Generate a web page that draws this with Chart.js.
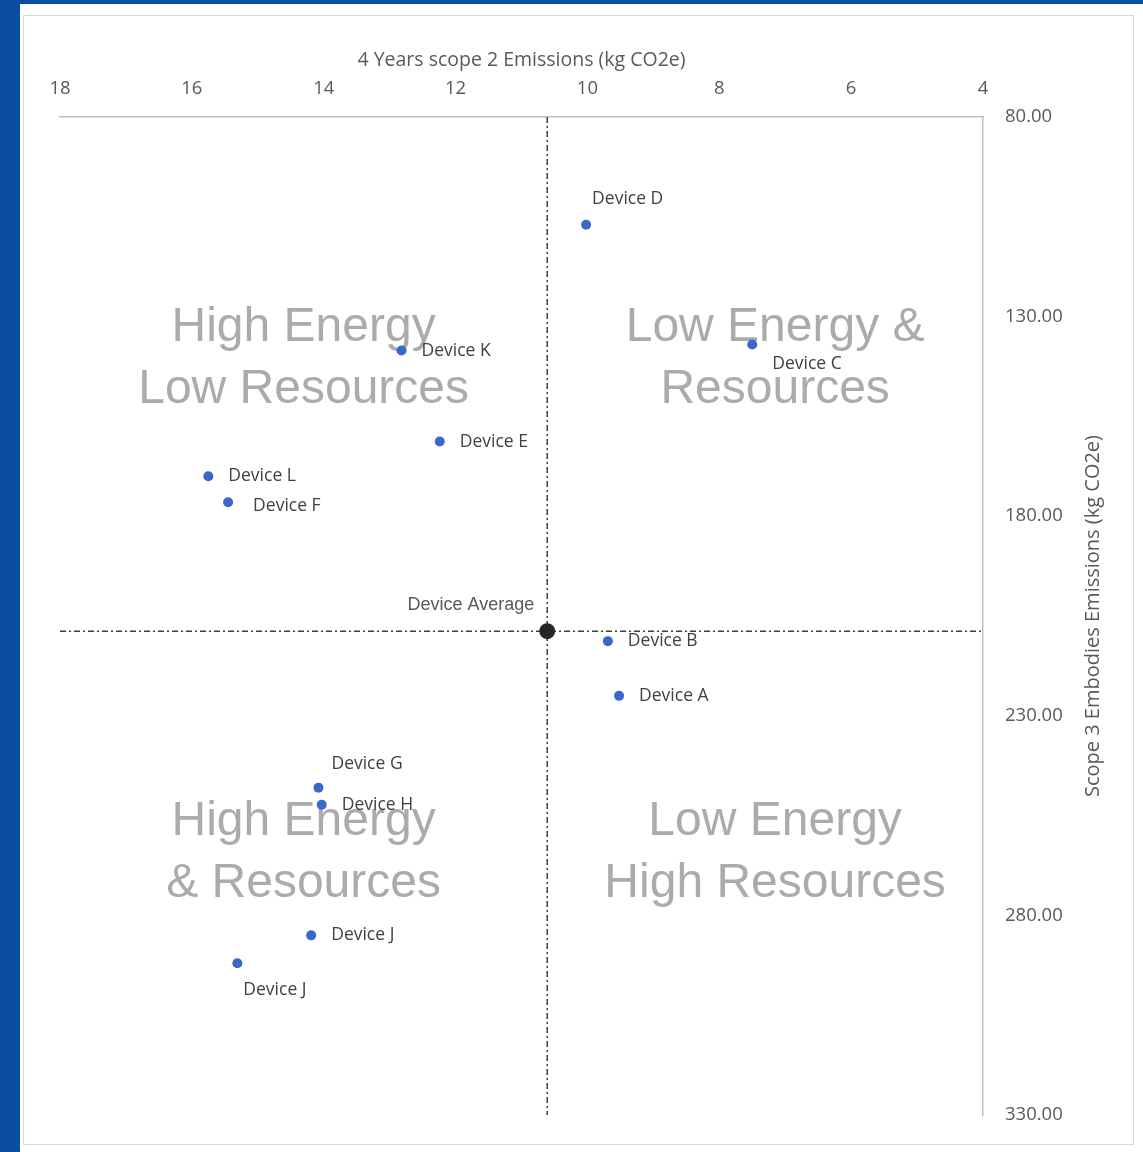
<!DOCTYPE html>
<html>
<head>
<meta charset="utf-8">
<script src="https://cdn.jsdelivr.net/npm/chart.js@4"></script>
<style>
  html, body { margin: 0; padding: 0; }
  body { width: 1143px; height: 1152px; background: #0b4e9f; position: relative; overflow: hidden; }
  .sheet { position: absolute; left: 20px; top: 4px; right: 0; bottom: 0; background: #fff; }
  .frame { position: absolute; left: 23px; top: 15px; width: 1109px; height: 1128px; border: 1.5px solid #d9d9d9; }
  canvas { position: absolute; left: 0; top: 0; }
</style>
</head>
<body>
<div class="sheet"></div>
<div class="frame"></div>
<canvas id="quadChart" width="1143" height="1152"></canvas>
<script>
// device emissions
const deviceNames = ['Device A', 'Device B', 'Device C', 'Device D', 'Device E', 'Device F',
  'Device G', 'Device H', 'Device J', 'Device J', 'Device K', 'Device L'];
const scope2 = [9.52, 9.69, 7.50, 10.02, 12.24, 15.45, 14.08, 14.03, 14.19, 15.31, 12.82, 15.75];
const scope3 = [225.0, 211.3, 137.0, 107.0, 161.3, 176.5, 248.0, 252.3, 285.0, 292.0, 138.5, 170.0];

const avgScope2 = 10.61;
const avgScope3 = 208.8;

const xRange = [4, 18];
const yRange = [80, 330];

const quadrantText = [
  ['High Energy', 'Low Resources'],
  ['Low Energy &', 'Resources'],
  ['High Energy', '& Resources'],
  ['Low Energy', 'High Resources']
];

// where each device label sits relative to its dot
const labelPlacement = ['right', 'right', 'belowRight', 'above', 'right', 'rightLow',
  'aboveRight', 'right', 'right', 'below', 'right', 'right'];

const labelFont = '17.5px "Open Sans"';
const labelColor = '#404040';
const axisColor = '#595959';

const devicePoints = scope2.map((x, i) => ({ x: x, y: scope3[i] }));

const quadrantLabels = {
  id: 'quadrantLabels',
  beforeDatasetsDraw(chart) {
    const { ctx, scales: { x, y }, chartArea } = chart;
    const midX = x.getPixelForValue(avgScope2);
    const midY = y.getPixelForValue(avgScope3);
    const cxs = [(chartArea.left + midX) / 2, (midX + chartArea.right) / 2 + 10];
    const cys = [(chartArea.top + midY) / 2 - 15, (midY + chartArea.bottom) / 2 - 20];
    ctx.save();
    ctx.font = '48px "Liberation Sans"';
    ctx.fillStyle = '#ababab';
    ctx.textAlign = 'center';
    ctx.textBaseline = 'middle';
    quadrantText.forEach((lines, q) => {
      const cx = cxs[q % 2];
      const cy = cys[Math.floor(q / 2)];
      ctx.fillText(lines[0], cx, cy - 31);
      ctx.fillText(lines[1], cx, cy + 31);
    });
    ctx.restore();
  }
};

const pointLabels = {
  id: 'pointLabels',
  afterDatasetsDraw(chart) {
    const { ctx } = chart;
    const meta = chart.getDatasetMeta(0);
    ctx.save();
    ctx.font = labelFont;
    ctx.fillStyle = labelColor;
    ctx.textBaseline = 'middle';
    ctx.textAlign = 'left';
    meta.data.forEach((pt, i) => {
      let dx = 20, dy = 0;
      switch (labelPlacement[i]) {
        case 'above': dx = 6; dy = -26; break;
        case 'aboveRight': dx = 13; dy = -24; break;
        case 'below': dx = 6; dy = 27; break;
        case 'belowRight': dx = 20; dy = 19; break;
        case 'rightLow': dx = 25; dy = 4; break;
      }
      ctx.fillText(deviceNames[i], pt.x + dx, pt.y + dy);
    });
    const avg = chart.getDatasetMeta(1).data[0];
    ctx.font = '18px "Liberation Sans"';
    ctx.fillStyle = axisColor;
    ctx.textAlign = 'right';
    ctx.fillText('Device Average', avg.x - 13, avg.y - 26);
    ctx.restore();
  }
};

// y title reads bottom-to-top on the right side
const rightTitle = {
  id: 'rightTitle',
  afterDraw(chart) {
    const { ctx, chartArea } = chart;
    ctx.save();
    ctx.translate(1093, (chartArea.top + chartArea.bottom) / 2);
    ctx.rotate(-Math.PI / 2);
    ctx.font = '20px "Open Sans"';
    ctx.fillStyle = axisColor;
    ctx.textAlign = 'center';
    ctx.textBaseline = 'middle';
    ctx.fillText('Scope 3 Embodies Emissions (kg CO2e)', 0, 0);
    ctx.restore();
  }
};

const dividerStyle = {
  type: 'line',
  showLine: true,
  borderColor: '#3f3f3f',
  borderWidth: 1.5,
  borderDash: [6, 3, 2, 3],
  pointRadius: 0,
  fill: false
};

new Chart(document.getElementById('quadChart'), {
  type: 'scatter',
  data: {
    datasets: [
      {
        label: 'Devices',
        data: devicePoints,
        pointRadius: 5,
        pointHoverRadius: 5,
        backgroundColor: '#3a67c9',
        borderWidth: 0
      },
      {
        label: 'Device Average',
        data: [{ x: avgScope2, y: avgScope3 }],
        pointRadius: 8,
        backgroundColor: '#262626',
        borderWidth: 0
      },
      Object.assign({ label: 'v', data: [{ x: avgScope2, y: yRange[0] }, { x: avgScope2, y: yRange[1] }] }, dividerStyle),
      Object.assign({ label: 'h', data: [{ x: xRange[1], y: avgScope3 }, { x: xRange[0], y: avgScope3 }] }, dividerStyle)
    ]
  },
  options: {
    responsive: false,
    animation: false,
    layout: { padding: { left: 60, top: 38, right: 0, bottom: 37 } },
    plugins: {
      legend: { display: false },
      tooltip: { enabled: false }
    },
    scales: {
      x: {
        type: 'linear',
        position: 'top',
        reverse: true,
        min: xRange[0],
        max: xRange[1],
        afterFit(scale) { scale.height = 79; },
        grid: { display: false },
        border: { display: true, color: '#bfbfbf', width: 1.5 },
        ticks: {
          stepSize: 2,
          padding: 9,
          color: axisColor,
          font: { family: 'Open Sans', size: 18.5 }
        },
        title: {
          display: true,
          text: '4 Years scope 2 Emissions (kg CO2e)',
          color: axisColor,
          padding: { top: 11, bottom: 0 },
          font: { family: 'Open Sans', size: 19.5 }
        }
      },
      y: {
        type: 'linear',
        position: 'right',
        reverse: true,
        min: yRange[0],
        max: yRange[1],
        afterFit(scale) { scale.width = 160; },
        grid: { display: false },
        border: { display: true, color: '#bfbfbf', width: 1.5 },
        ticks: {
          stepSize: 50,
          padding: 14,
          color: axisColor,
          font: { family: 'Open Sans', size: 18.5 },
          callback: v => v.toFixed(2)
        }
      }
    }
  },
  plugins: [quadrantLabels, pointLabels, rightTitle]
});
</script>
</body>
</html>
